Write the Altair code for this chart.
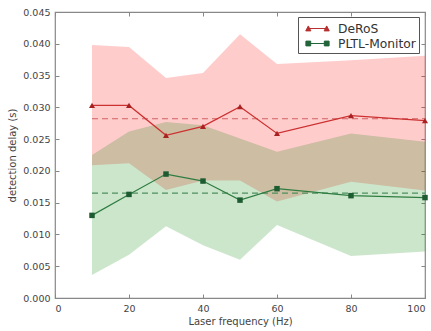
import altair as alt
import pandas as pd

# ---- data ----
freq = [10, 20, 30, 40, 50, 60, 80, 100]
deros_mean = [0.0303, 0.0303, 0.0256, 0.0270, 0.0301, 0.0259, 0.0287, 0.0279]
deros_upper = [0.0398, 0.0395, 0.0346, 0.0354, 0.0415, 0.0368, 0.0374, 0.0381]
deros_lower = [0.0209, 0.0212, 0.0170, 0.0185, 0.0185, 0.0152, 0.0183, 0.0169]
pltl_mean = [0.0130, 0.0163, 0.0195, 0.0184, 0.0154, 0.0172, 0.0161, 0.0158]
pltl_upper = [0.0225, 0.0262, 0.0277, 0.0272, 0.0251, 0.0230, 0.0259, 0.0246]
pltl_lower = [0.0036, 0.0068, 0.0113, 0.0083, 0.0060, 0.0115, 0.0066, 0.0073]
deros_avg = 0.0282
pltl_avg = 0.0165
series_names = ["DeRoS", "PLTL-Monitor"]
x_ticks = [0, 20, 40, 60, 80, 100]
y_ticks = [0.000, 0.005, 0.010, 0.015, 0.020, 0.025, 0.030, 0.035, 0.040, 0.045]

W, H = 370, 286
FONT = "DejaVu Sans"
TXT = "#444444"
FRAME = "#888888"

deros = pd.DataFrame({"x": freq, "mean": deros_mean, "lo": deros_lower, "hi": deros_upper})
pltl = pd.DataFrame({"x": freq, "mean": pltl_mean, "lo": pltl_lower, "hi": pltl_upper})
deros_avg_df = pd.DataFrame({"avg": [deros_avg], "x0": [freq[0]], "x1": [freq[-1]]})
pltl_avg_df = pd.DataFrame({"avg": [pltl_avg], "x0": [freq[0]], "x1": [freq[-1]]})
legend_df = pd.DataFrame({"series": series_names, "x": [freq[0]] * 2, "mean": [deros_avg, pltl_avg]})

xs = alt.Scale(domain=[0, 100], nice=False, zero=False)
ys = alt.Scale(domain=[0, 0.045], nice=False, zero=False)

# axes: labels-only axes outside, tick-only axes shifted to opposite edges so ticks point inward
ax_x_labels = alt.Axis(orient="bottom", values=x_ticks, ticks=False, domain=False, grid=False,
                       labelPadding=5, title="Laser frequency (Hz)", titlePadding=4)
ax_y_labels = alt.Axis(orient="left", values=y_ticks, format=".3f", ticks=False, domain=False,
                       grid=False, labelPadding=5, title="detection delay (s)", titlePadding=5)
ax_x_tick_bottom = alt.Axis(orient="top", offset=-H, values=x_ticks, labels=False, domain=False,
                            grid=False, ticks=True, tickSize=4, title=None)
ax_x_tick_top = alt.Axis(orient="bottom", offset=-H, values=x_ticks, labels=False, domain=False,
                         grid=False, ticks=True, tickSize=4, title=None)
ax_y_tick_left = alt.Axis(orient="right", offset=-W, values=y_ticks, labels=False, domain=False,
                          grid=False, ticks=True, tickSize=4, title=None)
ax_y_tick_right = alt.Axis(orient="left", offset=-W, values=y_ticks, labels=False, domain=False,
                           grid=False, ticks=True, tickSize=4, title=None)

red_band = alt.Chart(deros).mark_area(color="#ff0000", opacity=0.2).encode(
    x=alt.X("x:Q", scale=xs, axis=ax_x_labels),
    y=alt.Y("hi:Q", scale=ys, axis=ax_y_labels),
    y2="lo:Q",
)
green_band = alt.Chart(pltl).mark_area(color="#008000", opacity=0.2).encode(
    x=alt.X("x:Q", scale=xs, axis=ax_x_tick_bottom),
    y=alt.Y("hi:Q", scale=ys, axis=ax_y_tick_left),
    y2="lo:Q",
)

red_rule = alt.Chart(deros_avg_df).mark_rule(strokeDash=[6, 4], strokeWidth=1.2, color="#d06060").encode(
    x=alt.X("x0:Q", scale=xs, axis=ax_x_tick_top),
    x2="x1:Q",
    y=alt.Y("avg:Q", scale=ys, axis=ax_y_tick_right),
)
green_rule = alt.Chart(pltl_avg_df).mark_rule(strokeDash=[6, 4], strokeWidth=1.2, color="#4f8f5f").encode(
    x=alt.X("x0:Q", scale=xs, axis=None),
    x2="x1:Q",
    y=alt.Y("avg:Q", scale=ys, axis=None),
)

red_line = alt.Chart(deros).mark_line(color="#cc3030", strokeWidth=1.2).encode(
    x=alt.X("x:Q", scale=xs, axis=None),
    y=alt.Y("mean:Q", scale=ys, axis=None),
)
red_pts = alt.Chart(deros).mark_point(shape="triangle-up", filled=True, size=36, color="#a82020",
                                      opacity=1).encode(
    x=alt.X("x:Q", scale=xs, axis=None),
    y=alt.Y("mean:Q", scale=ys, axis=None),
)
green_line = alt.Chart(pltl).mark_line(color="#2e7d40", strokeWidth=1.2).encode(
    x=alt.X("x:Q", scale=xs, axis=None),
    y=alt.Y("mean:Q", scale=ys, axis=None),
)
green_pts = alt.Chart(pltl).mark_point(shape="square", filled=True, size=30, color="#1d5c30",
                                       opacity=1).encode(
    x=alt.X("x:Q", scale=xs, axis=None),
    y=alt.Y("mean:Q", scale=ys, axis=None),
)

# legend-only layer (rows filtered out; entries come from the explicit scale domains)
tri_sym = "M-1.47,0.3L-1.15,-0.32L-0.83,0.3Z M0.83,0.3L1.15,-0.32L1.47,0.3Z M-1.15,0L1.15,0"
sq_sym = "M-1.45,-0.3H-0.85V0.3H-1.45Z M0.85,-0.3H1.45V0.3H0.85Z M-1.15,0L1.15,0"
col_scale = alt.Scale(domain=series_names, range=["#b83030", "#23653a"])
leg = alt.Legend(title=None, orient="none", legendX=243, legendY=5)
legend_layer = alt.Chart(legend_df).mark_point(filled=True, opacity=1).encode(
    x=alt.X("x:Q", scale=xs, axis=None),
    y=alt.Y("mean:Q", scale=ys, axis=None),
    fill=alt.Fill("series:N", scale=col_scale, legend=leg),
    stroke=alt.Stroke("series:N", scale=col_scale, legend=leg),
    shape=alt.Shape("series:N", scale=alt.Scale(domain=series_names, range=[tri_sym, sq_sym]),
                    legend=leg),
).transform_filter("false")

chart = alt.layer(
    red_band, green_band, red_rule, green_rule, red_line, red_pts, green_line, green_pts, legend_layer
).resolve_axis(x="independent", y="independent").properties(
    width=W, height=H,
    autosize=alt.AutoSizeParams(type="none"),
    padding={"left": 55, "top": 12, "right": 6, "bottom": 33},
).configure_view(
    stroke=FRAME, strokeWidth=1.2
).configure_axis(
    labelFont=FONT, titleFont=FONT, labelFontSize=9.5, titleFontSize=10,
    labelColor=TXT, titleColor=TXT, titleFontWeight="normal", tickColor=FRAME, tickWidth=1,
).configure_legend(
    strokeColor="#555555", fillColor="white", padding=3,
    labelFont=FONT, labelFontSize=12.3, labelColor="#333333", symbolSize=256,
    symbolStrokeWidth=1, rowPadding=0, labelOffset=12, symbolOffset=8,
)

chart.save("out.html", embed_options={"renderer": "svg", "actions": False})
